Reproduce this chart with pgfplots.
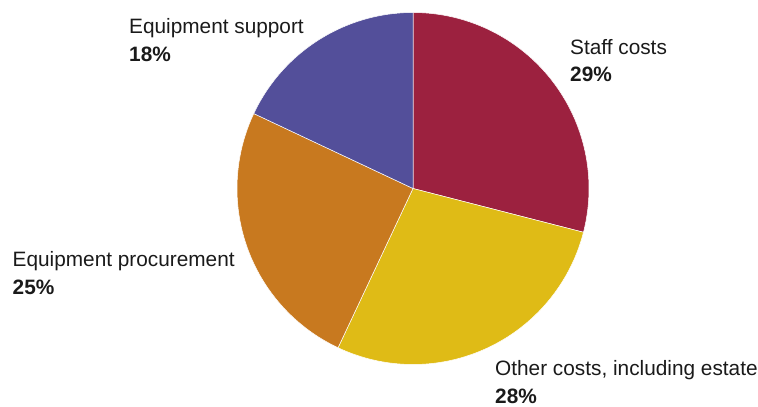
\documentclass[border=0pt]{standalone}
\usepackage{pgfplots}
\usepackage{pgfplotstable}
\pgfplotsset{compat=1.18}
\usepackage{fontspec}
\setmainfont{Liberation Sans}
\definecolor{c0}{HTML}{9C213F}
\definecolor{c1}{HTML}{DFBB16}
\definecolor{c2}{HTML}{C8791F}
\definecolor{c3}{HTML}{534F9A}
\definecolor{txt}{HTML}{1A1A1A}
\pgfplotstableread[col sep=comma]{
label,value
Staff costs,29
Other costs including estate,28
Equipment procurement,25
Equipment support,18
}\piedata
\begin{document}
\begin{tikzpicture}
\useasboundingbox (0,0) rectangle (758pt,407pt);
\begin{axis}[
  at={(0,0)}, anchor=south west,
  x=1pt, y=1pt,
  xmin=0, xmax=758, ymin=0, ymax=407,
  hide axis, clip=false,
]
\def\angstart{90}
\pgfplotsforeachungrouped \i in {0,...,3}{%
  \pgfplotstablegetelem{\i}{value}\of\piedata
  \pgfmathsetmacro\angend{\angstart-3.6*\pgfplotsretval}%
  \edef\temp{\noexpand\fill[c\i, draw=white, line width=0.5pt] (axis cs:413,218.5) -- ++(\angstart:176pt) arc[start angle=\angstart, end angle=\angend, radius=176pt] -- cycle;}%
  \temp
  \global\let\angstart\angend
}
\begin{scope}[every node/.style={anchor=base west, inner sep=0pt, text=txt, font=\fontsize{20.8}{24}\selectfont}]
\node at (axis cs:129,373) {Equipment support};
\node at (axis cs:129,345.5) {\bfseries 18\%};
\node at (axis cs:570,352) {Staff costs};
\node at (axis cs:570,325) {\bfseries 29\%};
\node at (axis cs:12.5,140) {Equipment procurement};
\node at (axis cs:12.5,112) {\bfseries 25\%};
\node at (axis cs:495,31) {Other costs, including estate};
\node at (axis cs:495,3.5) {\bfseries 28\%};
\end{scope}
\end{axis}
\end{tikzpicture}
\end{document}
